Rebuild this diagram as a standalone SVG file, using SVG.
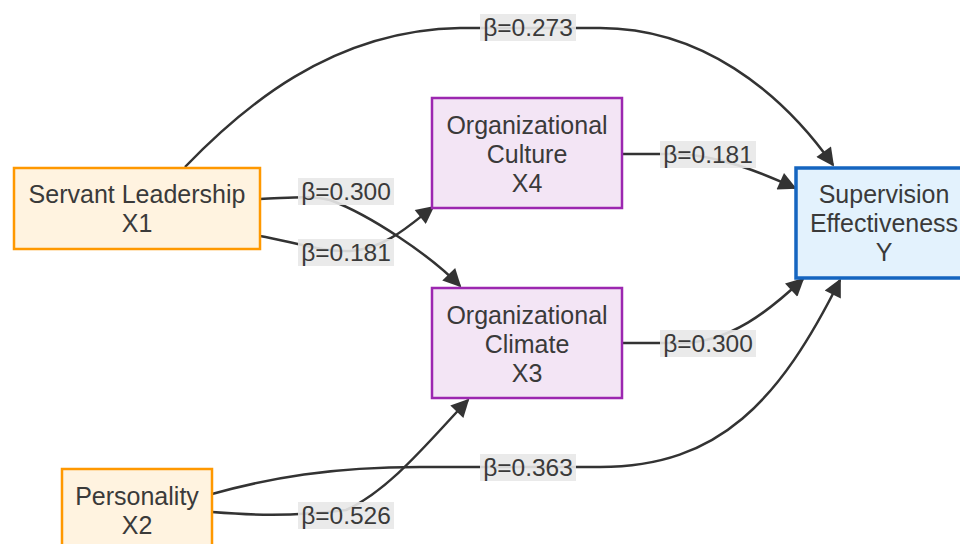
<svg xmlns="http://www.w3.org/2000/svg" width="960" height="544" viewBox="0 0 960 544">
<style>
.node text{font-family:"Liberation Sans",Arial,sans-serif;font-size:25px;fill:#3a3a3a;text-anchor:middle;dominant-baseline:central}
.src rect{fill:#FFF3E0;stroke:#FF9800;stroke-width:2.5}
.med rect{fill:#F3E5F5;stroke:#9C27B0;stroke-width:2.5}
.out rect{fill:#E3F2FD;stroke:#1565C0;stroke-width:3.5}
.edges path{fill:none;stroke:#333;stroke-width:2.5}
.lbl rect{fill:#e8e8e8;opacity:0.9}
.lbl text{font-family:"Liberation Sans",Arial,sans-serif;font-size:24.5px;fill:#3a3a3a;text-anchor:middle;dominant-baseline:central}
</style>
<defs>
<marker id="arr" viewBox="0 0 10 10" refX="9" refY="5" markerUnits="userSpaceOnUse" markerWidth="21" markerHeight="18" orient="auto">
<path d="M0,0 L10,5 L0,10 z" fill="#333"/>
</marker>
</defs>
<rect width="960" height="544" fill="#fff"/>
<g id="connectors" class="edges">
<path d="M185,167 C240,110 330,30 460,28 L600,28 C700,28 780,90 833,165" marker-end="url(#arr)"/>
<path d="M260,199 C290,198 310,195 330,200 C370,215 430,255 460,286" marker-end="url(#arr)"/>
<path d="M260,236 C290,241 320,252 350,251 C385,249 410,225 433,207" marker-end="url(#arr)"/>
<path d="M622,154 L680,154 C720,156 760,172 795,188" marker-end="url(#arr)"/>
<path d="M622,343 L680,343 C730,343 770,310 803,279" marker-end="url(#arr)"/>
<path d="M212,512 C250,515 290,517 346,510 C390,490 430,440 468,400" marker-end="url(#arr)"/>
<path d="M212,494 C270,478 330,467 420,467 L600,467 C720,467 780,400 840,280" marker-end="url(#arr)"/>
</g>
<g id="labels">
<g class="lbl"><rect x="480" y="14" width="96" height="27"/><text x="528" y="27.5">β=0.273</text></g>
<g class="lbl"><rect x="298" y="178" width="96" height="27"/><text x="346" y="191.5">β=0.300</text></g>
<g class="lbl"><rect x="298" y="239" width="96" height="27"/><text x="346" y="252.5">β=0.181</text></g>
<g class="lbl"><rect x="660" y="141" width="96" height="27"/><text x="708" y="154.5">β=0.181</text></g>
<g class="lbl"><rect x="660" y="330" width="96" height="27"/><text x="708" y="343.5">β=0.300</text></g>
<g class="lbl"><rect x="480" y="454" width="96" height="27"/><text x="528" y="467.5">β=0.363</text></g>
<g class="lbl"><rect x="298" y="502" width="96" height="27"/><text x="346" y="515.5">β=0.526</text></g>
</g>
<g id="X1" class="node src"><rect x="14" y="168" width="246" height="81"/><text x="137" y="193.5">Servant Leadership</text><text x="137" y="222.5">X1</text></g>
<g id="X2" class="node src"><rect x="62" y="469" width="150" height="95"/><text x="137" y="495.5">Personality</text><text x="137" y="524.5">X2</text></g>
<g id="X4" class="node med"><rect x="432" y="98" width="190" height="110"/><text x="527" y="125">Organizational</text><text x="527" y="154">Culture</text><text x="527" y="183">X4</text></g>
<g id="X3" class="node med"><rect x="432" y="288" width="190" height="110"/><text x="527" y="315">Organizational</text><text x="527" y="344">Climate</text><text x="527" y="373">X3</text></g>
<g id="Y" class="node out"><rect x="796" y="168" width="176" height="110"/><text x="884" y="194">Supervision</text><text x="884" y="223">Effectiveness</text><text x="884" y="252">Y</text></g>
</svg>
